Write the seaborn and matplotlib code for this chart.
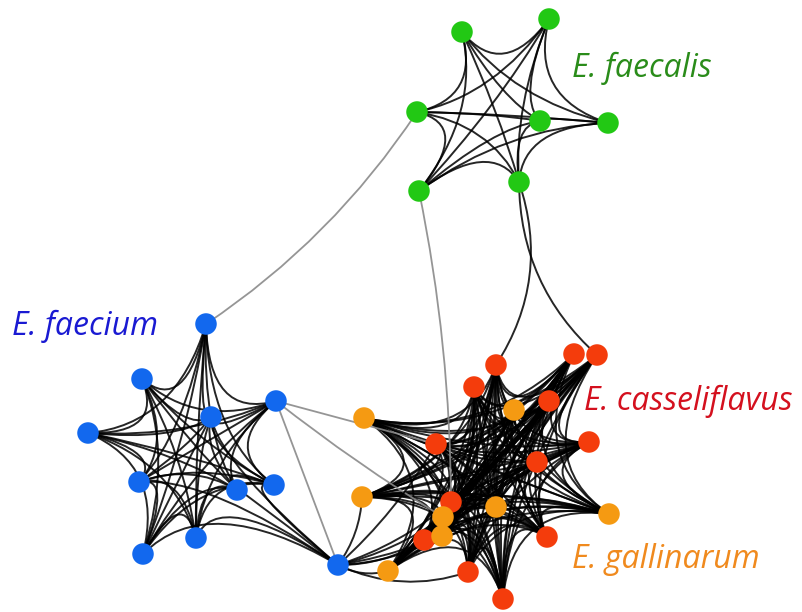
import numpy as np
import pandas as pd
import matplotlib
matplotlib.use("Agg")
import matplotlib.pyplot as plt
from matplotlib.path import Path
from matplotlib.patches import PathPatch
import seaborn as sns

# Node layout (x, y) per species cluster
faecalis_x = [462, 549, 417, 540, 608, 419, 519]
faecalis_y = [32, 19, 112, 121, 123, 191, 182]

faecium_x = [206, 142, 276, 211, 88, 139, 237, 274, 196, 143, 338]
faecium_y = [324, 379, 401, 417, 433, 482, 490, 485, 538, 554, 565]

casseliflavus_x = [496, 574, 597, 474, 549, 436, 589, 537, 451, 547, 424, 468, 503]
casseliflavus_y = [365, 354, 355, 387, 401, 444, 442, 462, 502, 537, 540, 572, 599]

gallinarum_x = [364, 514, 362, 496, 609, 443, 442, 388]
gallinarum_y = [418, 410, 497, 507, 514, 517, 536, 571]

species = ["E. faecalis", "E. faecium", "E. casseliflavus", "E. gallinarum"]
node_colors = ["#22c814", "#1268ee", "#f43c0c", "#f59a12"]
label_colors = ["#2a8c1a", "#1a1ad2", "#d4101e", "#f08a1e"]
label_x = [572, 12, 584, 572]
label_y = [68, 326, 401, 559]

# Bridges between clusters: (species_a, idx_a, species_b, idx_b, strong)
bridges = [
    ("E. faecium", 0, "E. faecalis", 2, False),
    ("E. faecalis", 5, "E. casseliflavus", 8, False),
    ("E. faecalis", 6, "E. casseliflavus", 0, True),
    ("E. faecalis", 6, "E. casseliflavus", 2, True),
    ("E. faecium", 2, "E. casseliflavus", 5, False),
    ("E. faecium", 2, "E. gallinarum", 5, False),
    ("E. faecium", 2, "E. faecium", 10, False),
    ("E. faecium", 10, "E. gallinarum", 2, True),
    ("E. faecium", 10, "E. gallinarum", 7, True),
    ("E. faecium", 10, "E. casseliflavus", 10, True),
    ("E. faecium", 10, "E. gallinarum", 6, True),
    ("E. faecium", 10, "E. gallinarum", 5, True),
    ("E. faecium", 10, "E. casseliflavus", 8, True),
    ("E. faecium", 10, "E. casseliflavus", 11, True),
    ("E. faecium", 10, "E. casseliflavus", 5, True),
    ("E. faecium", 10, "E. gallinarum", 3, True),
]
# sideways bow of each bridge curve (fraction of its length)
bridge_bend = [0.1, -0.05, -0.24, 0.22, 0.0, 0.03, 0.0,
               0.15, 0.2, 0.15, 0.12, 0.1, 0.1, 0.2, 0.08, 0.1]

frames = []
for sp, xs, ys in [("E. faecalis", faecalis_x, faecalis_y),
                   ("E. faecium", faecium_x, faecium_y),
                   ("E. casseliflavus", casseliflavus_x, casseliflavus_y),
                   ("E. gallinarum", gallinarum_x, gallinarum_y)]:
    frames.append(pd.DataFrame({"x": xs, "y": ys, "species": sp,
                                "idx": range(len(xs))}))
nodes = pd.concat(frames, ignore_index=True)
nodes["cluster"] = nodes["species"].replace({"E. gallinarum": "E. casseliflavus"})


def pos(sp, i):
    r = nodes[(nodes.species == sp) & (nodes.idx == i)].iloc[0]
    return np.array([r.x, r.y], dtype=float)


def draw_curve(ax, p, ctrl, q, color, lw, alpha):
    path = Path([p, ctrl, q], [Path.MOVETO, Path.CURVE3, Path.CURVE3])
    ax.add_patch(PathPatch(path, facecolor="none", edgecolor=color,
                           lw=lw, alpha=alpha, zorder=1, capstyle="round"))


def bowed_edge(ax, p, q, color, lw, alpha, bend):
    d = q - p
    perp = np.array([-d[1], d[0]])
    draw_curve(ax, p, (p + q) / 2 + bend * perp, q, color, lw, alpha)


def inward_edge(ax, p, q, center, pull, color, lw, alpha):
    mid = (p + q) / 2
    draw_curve(ax, p, mid + pull * (center - mid), q, color, lw, alpha)


sns.set_theme(style="white")
fig = plt.figure(figsize=(8.02, 6.12), dpi=100)
ax = fig.add_axes([0, 0, 1, 1])

# Dense within-cluster edges, pulled toward each cluster's centre
for cl, grp in nodes.groupby("cluster"):
    ids = grp["idx"].to_numpy()
    pts = grp[["x", "y"]].to_numpy(dtype=float)
    if cl == "E. faecium":
        center = pts[ids != 10].mean(axis=0)
    else:
        center = pts.mean(axis=0)
    n = len(pts)
    for a in range(n):
        for b in range(a + 1, n):
            if cl == "E. faecium" and (ids[a] == 10 or ids[b] == 10):
                other = ids[b] if ids[a] == 10 else ids[a]
                if other not in (3, 5, 6, 7, 8, 9):
                    continue
            inward_edge(ax, pts[a], pts[b], center, 0.65, "black", 1.4, 0.85)

for (sa, ia, sb, ib, strong), bend in zip(bridges, bridge_bend):
    p, q = pos(sa, ia), pos(sb, ib)
    if strong:
        bowed_edge(ax, p, q, "black", 1.4, 0.85, bend)
    else:
        bowed_edge(ax, p, q, "#8a8a8a", 1.3, 0.9, bend)

sns.scatterplot(data=nodes, x="x", y="y", hue="species",
                palette=dict(zip(species, node_colors)), s=240,
                edgecolor="none", linewidth=0, legend=False, ax=ax, zorder=3)

for sp, c, lx, ly in zip(species, label_colors, label_x, label_y):
    ax.text(lx, ly, sp, color=c, fontsize=23, style="italic",
            family=["Open Sans", "DejaVu Sans"], ha="left", va="center")

ax.set_xlim(0, 802)
ax.set_ylim(612, 0)
ax.axis("off")
fig.savefig("out.png", dpi=100, facecolor="white")
